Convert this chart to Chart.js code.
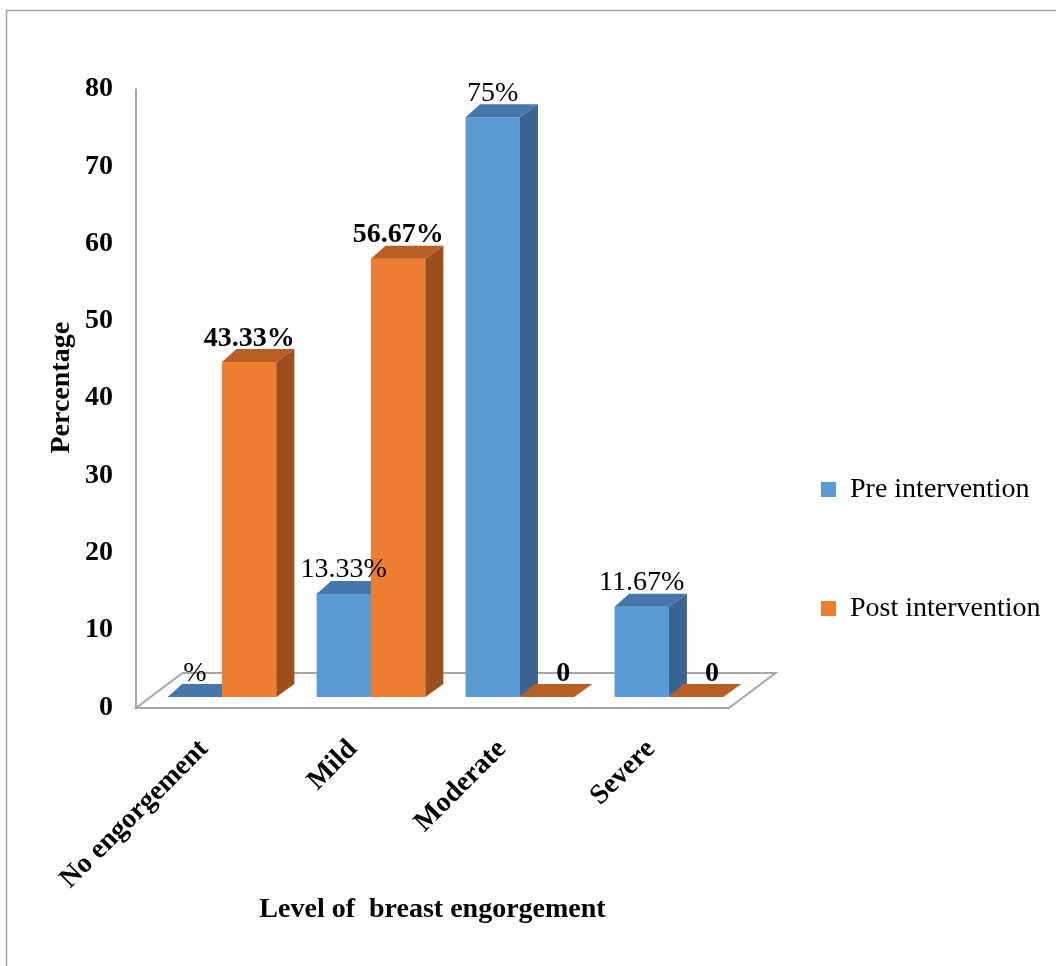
<!DOCTYPE html>
<html>
<head>
<meta charset="utf-8">
<script src="https://cdn.jsdelivr.net/npm/chart.js@4.4.1/dist/chart.umd.min.js"></script>
<style>
html,body{margin:0;padding:0;background:#fff;}
canvas{display:block;}
</style>
</head>
<body>
<canvas id="c" width="1056" height="966"></canvas>
<script>
// ---- data ----
const categories = ['No engorgement', 'Mild', 'Moderate', 'Severe'];
const seriesNames = ['Pre intervention', 'Post intervention'];
const preValues = [0, 13.33, 75, 11.67];
const postValues = [43.33, 56.67, 0, 0];
const preLabels = ['%', '13.33%', '75%', '11.67%'];
const postLabels = ['43.33%', '56.67%', '0', '0'];
const yTicks = [0, 10, 20, 30, 40, 50, 60, 70, 80];

// ---- style ----
const FONT = "'Liberation Serif', 'Times New Roman', Times, serif";
const DEPTH = { dxL: 14.5, dxR: 18, dy: 13 };
const FLOOR = { dx: 46.5, front: 11, back: -24 };

function drawFaces(ctx, bar, topColor, sideColor) {
  const p = bar.getProps(['x', 'y', 'base', 'width'], true);
  const l = p.x - p.width / 2, r = p.x + p.width / 2;
  ctx.fillStyle = topColor;
  ctx.beginPath();
  ctx.moveTo(l, p.y);
  ctx.lineTo(l + DEPTH.dxL, p.y - DEPTH.dy);
  ctx.lineTo(r + DEPTH.dxR, p.y - DEPTH.dy);
  ctx.lineTo(r, p.y);
  ctx.closePath();
  ctx.fill();
  if (p.base - p.y > 0.5) {
    ctx.fillStyle = sideColor;
    ctx.beginPath();
    ctx.moveTo(r, p.y);
    ctx.lineTo(r + DEPTH.dxR, p.y - DEPTH.dy);
    ctx.lineTo(r + DEPTH.dxR, p.base - DEPTH.dy);
    ctx.lineTo(r, p.base);
    ctx.closePath();
    ctx.fill();
  }
}

const threeD = {
  id: 'threeD',
  beforeDraw(chart) {
    const ctx = chart.ctx;
    ctx.save();
    ctx.strokeStyle = '#a3a3a3';
    ctx.lineWidth = 1.5;
    ctx.beginPath();
    ctx.moveTo(6.5, chart.height);
    ctx.lineTo(6.5, 10.5);
    ctx.lineTo(chart.width, 10.5);
    ctx.stroke();
    ctx.restore();
  },
  beforeDatasetsDraw(chart) {
    const ctx = chart.ctx;
    const ys = chart.scales.y;
    const a = chart.chartArea;
    const base = ys.getPixelForValue(0);
    const fl = a.left + 1, fr = a.right - 1;
    const fy = base + FLOOR.front, by = base + FLOOR.back;
    ctx.save();
    ctx.strokeStyle = '#a6a6a6';
    ctx.lineWidth = 2;
    ctx.fillStyle = '#ffffff';
    ctx.beginPath();
    ctx.moveTo(fl, fy);
    ctx.lineTo(fr, fy);
    ctx.lineTo(fr + FLOOR.dx, by);
    ctx.lineTo(fl + FLOOR.dx, by);
    ctx.closePath();
    ctx.fill();
    ctx.stroke();
    // vertical axis line
    ctx.beginPath();
    ctx.moveTo(fl, ys.getPixelForValue(yTicks[yTicks.length - 1]) + 10);
    ctx.lineTo(fl, fy);
    ctx.stroke();
    ctx.restore();
  },
  afterDatasetsDraw(chart) {
    const ctx = chart.ctx;
    ctx.save();
    chart.data.datasets.forEach((ds, di) => {
      const meta = chart.getDatasetMeta(di);
      meta.data.forEach(bar => {
        if (di > 0) bar.draw(ctx);
      });
      meta.data.forEach(bar => drawFaces(ctx, bar, ds.topColor, ds.sideColor));
    });
    // value labels
    chart.data.datasets.forEach((ds, di) => {
      const meta = chart.getDatasetMeta(di);
      ctx.font = (ds.labelBold ? 'bold ' : '') + '28px ' + FONT;
      ctx.fillStyle = '#000';
      ctx.textAlign = 'center';
      ctx.textBaseline = 'alphabetic';
      meta.data.forEach((bar, i) => {
        const p = bar.getProps(['x', 'y'], true);
        const v = ds.data[i].y;
        const shift = v === 0 ? (ds.zeroLabelShift || 0) : 0;
        ctx.fillText(ds.valueLabels[i], p.x + shift, p.y - 16.5);
      });
    });
    ctx.restore();
  }
};

const titleFont = { family: FONT, size: 28, weight: 'bold' };

new Chart(document.getElementById('c'), {
  type: 'bar',
  data: {
    datasets: [
      {
        label: seriesNames[0],
        data: categories.map((c, i) => ({ x: i, y: preValues[i] })),
        backgroundColor: '#5b9bd5',
        borderWidth: 0,
        topColor: '#4677ab',
        sideColor: '#3a6590',
        valueLabels: preLabels,
        labelBold: false,
        zeroLabelShift: 0
      },
      {
        label: seriesNames[1],
        data: categories.map((c, i) => ({ x: i, y: postValues[i] })),
        backgroundColor: '#ed7d31',
        borderWidth: 0,
        topColor: '#b95f25',
        sideColor: '#9b4f1e',
        valueLabels: postLabels,
        labelBold: true,
        zeroLabelShift: 16
      }
    ]
  },
  options: {
    responsive: false,
    animation: false,
    devicePixelRatio: 1,
    categoryPercentage: 0.73,
    barPercentage: 1.0,
    layout: { padding: { top: 78.5, left: 0, right: 16, bottom: 0 } },
    scales: {
      x: {
        type: 'linear',
        min: -0.584,
        max: 3.41,
        offset: false,
        afterFit(s) { s.height = 269; },
        grid: { display: false, drawTicks: false },
        border: { display: false },
        ticks: {
          stepSize: 1,
          includeBounds: false,
          autoSkip: false,
          minRotation: 45,
          maxRotation: 45,
          padding: 36,
          labelOffset: -18,
          color: '#000',
          font: titleFont,
          callback: v => (categories[v] !== undefined ? categories[v] : '')
        },
        title: {
          display: true,
          text: 'Level of  breast engorgement',
          color: '#000',
          font: titleFont,
          padding: { top: 0, bottom: 39 }
        }
      },
      y: {
        min: 0,
        max: 80,
        afterFit(s) { s.width = 135; },
        afterBuildTicks(s) { s.ticks = yTicks.map(v => ({ value: v })); },
        grid: { display: false, drawTicks: false },
        border: { display: false },
        ticks: {
          padding: 22,
          labelOffset: 10.5,
          color: '#000',
          font: titleFont
        },
        title: {
          display: true,
          text: 'Percentage',
          color: '#000',
          font: titleFont,
          padding: { top: 45, bottom: 0 }
        }
      }
    },
    plugins: {
      tooltip: { enabled: false },
      legend: {
        position: 'right',
        align: 'start',
        maxWidth: 310,
        title: { display: true, text: '', padding: { top: 294, bottom: 0 }, font: { size: 10 } },
        labels: {
          boxWidth: 15,
          boxHeight: 15,
          padding: 91,
          color: '#000',
          font: { family: FONT, size: 28 }
        }
      }
    }
  },
  plugins: [threeD]
});
</script>
</body>
</html>
